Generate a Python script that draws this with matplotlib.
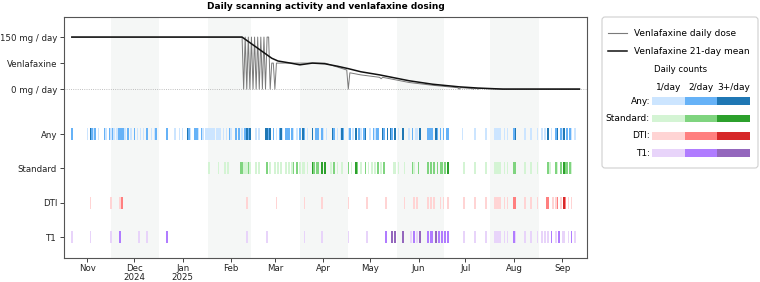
import matplotlib
matplotlib.use('Agg')
import matplotlib.pyplot as plt
from matplotlib.patches import FancyBboxPatch, Rectangle
import pandas as pd

plt.rcParams['font.family'] = ['DejaVu Sans']

title = 'Daily scanning activity and venlafaxine dosing'
day0 = pd.Timestamp('2024-11-01')   # scan / dose days are counted from this date

# ---- scan days by daily count (1/day, 2/day, 3+/day) ----
any_1 = [0, 4, 7, 12, 15, 17, 19, 24, 28, 32, 34, 36, 41, 43, 56, 59, 61, 66, 71, 74, 76, 77, 78, 79, 80, 81,
         83, 84, 85, 87, 89, 92, 99, 108, 110, 121, 125, 132, 134, 141, 151, 153, 160, 162, 167, 170, 175, 181,
         184, 199, 206, 210, 211, 240, 248, 255, 261, 262, 263, 264, 267, 269, 280, 284, 288, 291, 293, 297,
         304, 310, 312]
any_2 = [-10, 3, 5, 11, 14, 16, 20, 21, 22, 23, 26, 30, 38, 44, 51, 65, 69, 70, 73, 91, 95, 97, 101, 103, 116,
         119, 123, 127, 128, 129, 131, 136, 139, 146, 147, 148, 150, 158, 164, 168, 174, 177, 183, 185, 186, 190,
         195, 208, 218, 219, 220, 221, 224, 226, 228, 230, 231, 273, 300, 303, 307, 309]
any_3 = [2, 64, 102, 104, 114, 115, 117, 124, 138, 144, 157, 163, 172, 178, 189, 192, 194, 197, 202, 213, 223,
         274, 295, 301, 305]

std_1 = [78, 84, 88, 90, 100, 101, 102, 104, 108, 110, 117, 120, 122, 124, 127, 129, 131, 136, 138, 139, 141,
         156, 160, 163, 169, 175, 180, 182, 184, 188, 196, 197, 199, 203, 209, 241, 248, 255, 261, 262, 263, 264,
         267, 269, 280, 284, 288, 296, 301, 310]
std_2 = [98, 99, 103, 115, 132, 134, 145, 147, 148, 158, 167, 173, 178, 186, 190, 208, 212, 218, 220, 222, 224,
         226, 227, 229, 273, 274, 295, 300, 303, 306, 307, 309]
std_3 = [144, 150, 152, 172, 231, 305]

dti_1 = [2, 15, 21, 102, 121, 139, 150, 167, 179, 191, 203, 209, 211, 218, 220, 222, 226, 228, 231, 241, 248,
         255, 261, 262, 263, 264, 267, 269, 280, 284, 288, 298, 300, 303, 308, 310]
dti_2 = [22, 273, 274, 294, 295, 301, 306]
dti_3 = [305]

t1_1 = [-10, 2, 15, 33, 38, 102, 115, 139, 150, 167, 179, 207, 211, 241, 248, 255, 261, 262, 263, 264, 267,
        269, 274, 280, 284, 288, 291, 293, 295, 300, 304, 305, 308, 312]
t1_2 = [21, 51, 191, 209, 218, 220, 221, 225, 227, 229, 231, 273, 297, 302, 310]
t1_3 = [195, 197, 202, 213, 223]

row_labels = ['Any', 'Standard', 'DTI', 'T1']
row_levels = [[any_1, any_2, any_3], [std_1, std_2, std_3], [dti_1, dti_2, dti_3], [t1_1, t1_2, t1_3]]
row_colors = [['#cce5ff', '#66b2f7', '#1f77b4'],
              ['#d4f4d4', '#7fd47f', '#2ca02c'],
              ['#ffd4d4', '#ff7f7f', '#d62728'],
              ['#e8d4fa', '#b07cff', '#9467bd']]
level_labels = ['1/day', '2/day', '3+/day']

# ---- venlafaxine (mg/day) ----
dose_days = [-10, 99, 100, 101, 102, 103, 104, 105, 106, 107, 108, 109, 110, 111, 112, 113, 114, 115, 116, 117,
             118, 119, 120, 121, 152, 166, 167, 168, 175, 187, 188, 189, 206, 221, 237, 238, 239, 246, 247, 248,
             249, 250, 251, 264, 315]
dose_mg = [150, 150, 0, 150, 0, 150, 0, 150, 0, 150, 0, 150, 0, 150, 0, 150, 0, 150, 150, 0,
           75, 75, 0, 75, 75, 55, 0, 47, 41, 34, 30, 34, 19, 11, 4, 0, 4, 2, 0, 2,
           2, 0, 2, 0, 0]
mean_days = [-10, 99, 118, 122, 130, 136, 144, 152, 160, 167, 175, 187, 206, 221, 238, 250, 266, 315]
mean_mg = [150, 150, 89, 81, 75, 70, 75, 73, 66, 59, 50, 41, 24, 14, 6.5, 3, 0, 0]
dose_ticks = [150, 75, 0]
dose_tick_labels = ['150 mg / day', 'Venlafaxine', '0 mg / day']

# ---- shaded periods ----
shade_starts = ['2024-11-16', '2025-01-17', '2025-03-17', '2025-05-18', '2025-07-17']
shade_ends = ['2024-12-17', '2025-02-14', '2025-04-17', '2025-06-17', '2025-08-17']

month_ticks = ['2024-11-01', '2024-12-01', '2025-01-01', '2025-02-01', '2025-03-01', '2025-04-01',
               '2025-05-01', '2025-06-01', '2025-07-01', '2025-08-01', '2025-09-01']
month_labels = ['Nov', 'Dec\n2024', 'Jan\n2025', 'Feb', 'Mar', 'Apr', 'May', 'Jun', 'Jul', 'Aug', 'Sep']


def to_dates(days):
    return day0 + pd.to_timedelta(days, unit='D')


W, H = 760, 282
fig = plt.figure(figsize=(W / 100, H / 100), dpi=100)
ax = fig.add_axes([64 / W, (H - 258) / H, (587.3 - 64) / W, (258 - 17) / H])

FS = 6.2
LFS = 6.5
# row positions (top to bottom) and dose band
row_y = [3, 2, 1, 0]
dose_base, dose_span = 4.31, 1.515

for s, e in zip(shade_starts, shade_ends):
    ax.axvspan(pd.Timestamp(s), pd.Timestamp(e), color='#f5f7f6', lw=0, zorder=0)

for y, levels, cols in zip(row_y, row_levels, row_colors):
    for days, c in zip(levels, cols):
        ax.bar(to_dates(days), 0.35, width=1.0, bottom=y - 0.175, color=c, lw=0, zorder=2)

ax.axhline(dose_base, color='#aaaaaa', lw=0.6, ls=':', zorder=1)
ax.plot(to_dates(dose_days), [dose_base + v / 150 * dose_span for v in dose_mg],
        color='#7a7a7a', lw=0.7, zorder=3, label='Venlafaxine daily dose')
ax.plot(to_dates(mean_days), [dose_base + v / 150 * dose_span for v in mean_mg],
        color='#111111', lw=1.1, zorder=4, label='Venlafaxine 21-day mean')

yt = [dose_base + v / 150 * dose_span for v in dose_ticks] + row_y
ax.set_yticks(yt)
ax.set_yticklabels(dose_tick_labels + row_labels, fontsize=FS)
ax.set_xticks([pd.Timestamp(m) for m in month_ticks])
ax.set_xticklabels(month_labels, fontsize=FS, linespacing=0.95)
ax.tick_params(length=3, width=0.6, pad=2, colors='#222222')
ax.tick_params(axis='x', pad=1.5)
ax.set_xlim(pd.Timestamp('2024-10-17'), pd.Timestamp('2025-09-17'))
ax.set_ylim(-0.61, 6.41)
for sp in ax.spines.values():
    sp.set_color('#555555')
    sp.set_linewidth(0.8)
ax.set_title(title, fontsize=6.5, fontweight='bold', pad=5.5)

# ---- custom legend ----
lax = fig.add_axes([600 / W, (H - 169) / H, 160 / W, 153 / H])
lax.set_xlim(-2, 158)
lax.set_ylim(152, -1)
lax.axis('off')
lax.add_patch(FancyBboxPatch((0, 0), 156, 151, boxstyle='round,pad=0,rounding_size=3',
                             fc='white', ec='#d0d0d0', lw=0.8))
lax.plot([6, 25], [16, 16], color='#7a7a7a', lw=0.8)
lax.plot([6, 25], [34, 34], color='#111111', lw=1.1)
lax.text(32, 16, 'Venlafaxine daily dose', fontsize=LFS, va='center')
lax.text(32, 34, 'Venlafaxine 21-day mean', fontsize=LFS, va='center')
lax.text(79, 53, 'Daily counts', fontsize=LFS - 0.4, va='center', ha='center')
seg_w = 32.7
for j, lab in enumerate(level_labels):
    lax.text(50 + seg_w * (j + 0.5), 71, lab, fontsize=LFS, va='center', ha='center')
for i, (lab, cols) in enumerate(zip(row_labels, row_colors)):
    yy = 84 + i * 17.4
    lax.text(48, yy, lab + ':', fontsize=LFS, va='center', ha='right')
    for j, c in enumerate(cols):
        lax.add_patch(Rectangle((50 + seg_w * j, yy - 3.9), seg_w, 7.8, fc=c, lw=0))

fig.savefig('out.png', dpi=100)
